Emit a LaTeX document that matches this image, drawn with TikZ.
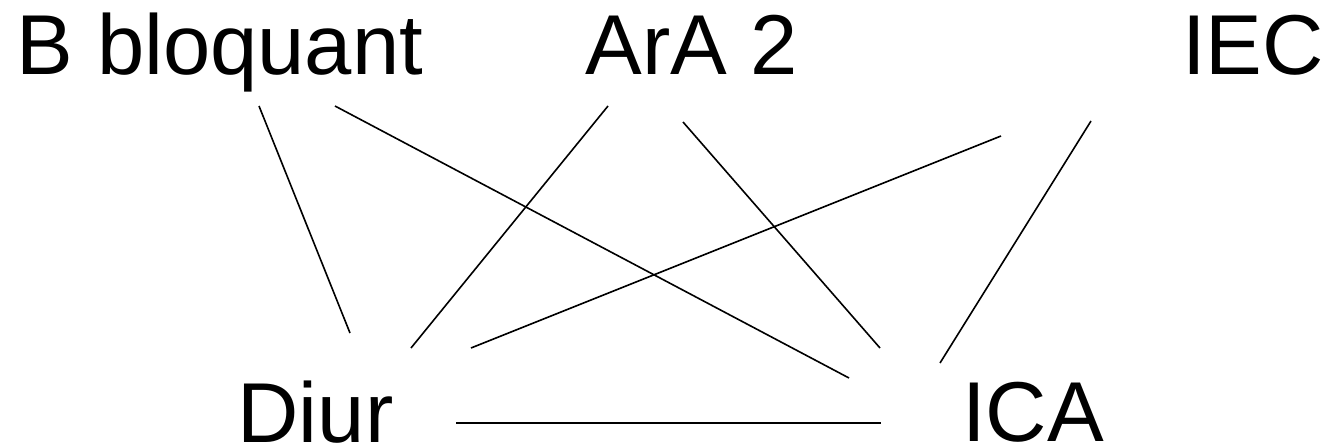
\documentclass[tikz,border=0pt]{standalone}
\usepackage{fontspec}
\setmainfont{Liberation Sans}
\begin{document}
\begin{tikzpicture}[x=1pt,y=-1pt,
  lab/.style={inner sep=0pt,anchor=base,font=\fontsize{85}{100}\selectfont},
  link/.style={draw=black,line width=1.6pt}]
\useasboundingbox (0,0) rectangle (1328,447);
\node[lab] (b) at (220,74) {B bloquant};
\node[lab] (r) at (692,74) {ArA 2};
\node[lab] (e) at (1253,74) {IEC};
\node[lab] (d) at (315.5,442) {Diur};
\node[lab] (c) at (1033,441) {ICA};
\draw[link] ([shift={(39,32)}]b.base) -- ([shift={(34.5,-109)}]d.base);
\draw[link] ([shift={(115,32)}]b.base) -- ([shift={(-184,-63)}]c.base);
\draw[link] ([shift={(-84,32)}]r.base) -- ([shift={(95.5,-94)}]d.base);
\draw[link] ([shift={(-9,48)}]r.base) -- ([shift={(-153,-93)}]c.base);
\draw[link] ([shift={(-252,62)}]e.base) -- ([shift={(155.5,-94)}]d.base);
\draw[link] ([shift={(-162,47)}]e.base) -- ([shift={(-93,-78)}]c.base);
\draw[link] ([shift={(140.5,-19)}]d.base) -- ([shift={(-152,-18)}]c.base);
\end{tikzpicture}
\end{document}
